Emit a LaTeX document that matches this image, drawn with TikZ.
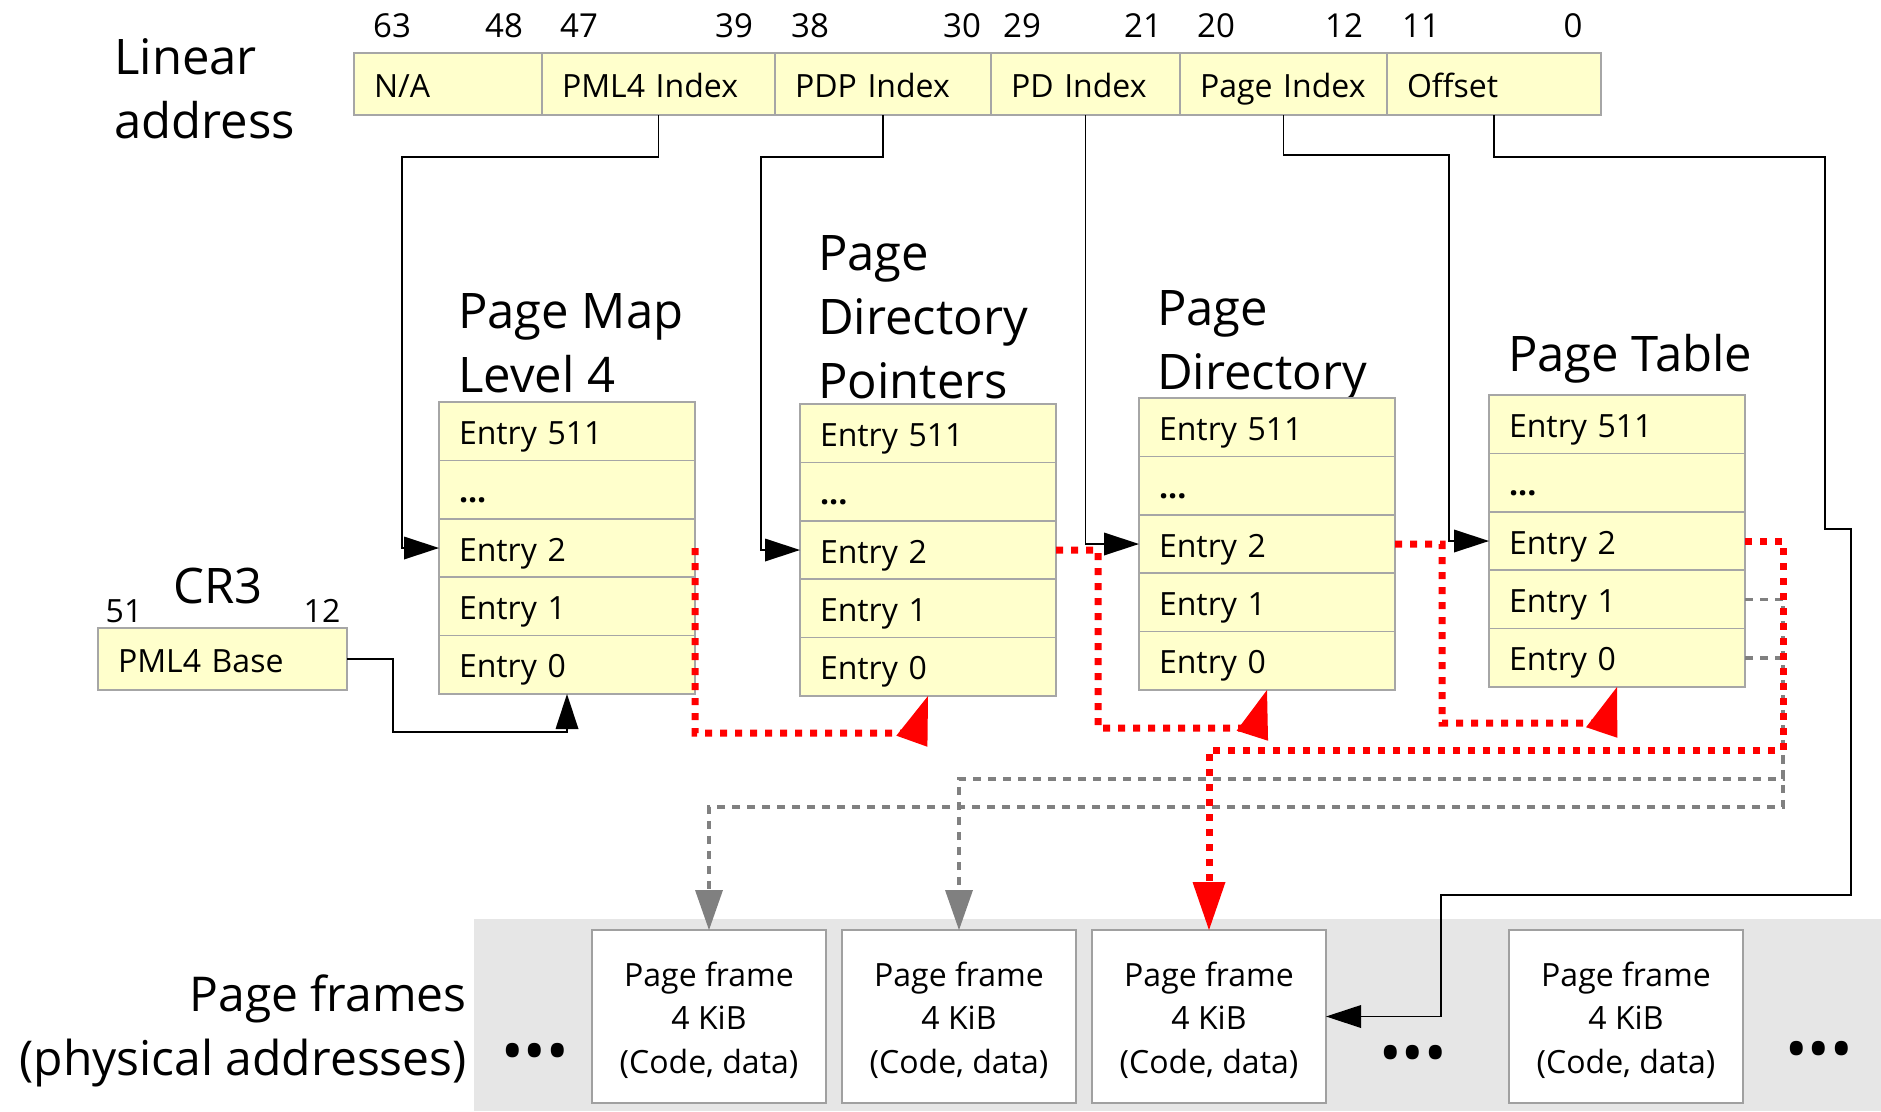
\documentclass[tikz,border=0pt]{standalone}
\usepackage{fontspec}
\setmainfont{Open Sans}
\usetikzlibrary{arrows.meta}

\definecolor{cellfill}{HTML}{FFFFCC}
\definecolor{cellline}{HTML}{A6A6A6}
\definecolor{frameline}{HTML}{A0A0A0}
\definecolor{framebg}{HTML}{E6E6E6}
\definecolor{walkred}{HTML}{FF0000}
\definecolor{altgray}{HTML}{808080}

\newcommand\smallfnt{\fontsize{32}{43.5}\selectfont}
\newcommand\bitfnt{\fontsize{33}{40}\selectfont}
\newcommand\bigfnt{\fontsize{49}{64}\selectfont}

% one paging-structure table: name, left x, top y
\newcommand\pagetable[3]{%
  \node[row] (#1-511) at (#2,#3) {Entry 511};
  \node[row, anchor=north] (#1-dots) at (#1-511.south) {\textbf{...}};
  \node[row, anchor=north] (#1-2) at (#1-dots.south) {Entry 2};
  \node[row, anchor=north] (#1-1) at (#1-2.south) {Entry 1};
  \node[row, anchor=north] (#1-0) at (#1-1.south) {Entry 0};
}

\begin{document}
\begin{tikzpicture}[x=1pt, y=-1pt,
  cell/.style={draw=cellline, fill=cellfill, line width=1.5pt, outer sep=0pt,
    inner xsep=20pt, inner ysep=0pt, minimum height=62pt, text height=30pt,
    text depth=4pt, align=left, font=\smallfnt, anchor=north west},
  row/.style={cell, minimum height=58.4pt, text width=216pt},
  bitnum/.style={font=\bitfnt, anchor=base, inner sep=0pt},
  crnum/.style={font=\smallfnt, anchor=base, inner sep=0pt},
  bigtext/.style={font=\bigfnt, inner sep=0pt, anchor=base west, align=left},
  pframe/.style={draw=frameline, fill=white, line width=1.5pt, outer sep=0pt,
    minimum width=234pt, minimum height=173pt, align=center, font=\smallfnt},
  bigdots/.style={font=\fontsize{60}{60}\selectfont, inner sep=0pt},
  link/.style={draw=black, line width=1.8pt, -{Triangle[length=35pt, width=23pt, line width=0pt]}},
  redwalk/.style={draw=walkred, line width=7pt, dash pattern=on 7pt off 8pt,
    -{Triangle[length=48pt, width=33pt, line width=0pt]}},
  graywalk/.style={draw=altgray, line width=3.5pt, dash pattern=on 8pt off 7pt,
    -{Triangle[length=40pt, width=28pt, line width=0pt]}}
]
\useasboundingbox (0,0) rectangle (1881,1111);

% physical memory strip
\fill[framebg] (474,919) rectangle (1881,1111);

% linear address fields (multi-line labels are placed by their last baseline)
\node[bigtext] (linlabel) at (114,138) {Linear\\address};
\node[cell, text width=148pt] (na) at (354,53) {N/A};
\node[cell, text width=193pt] (ipml) at (542,53) {PML4 Index};
\node[cell, text width=176pt] (ipdp) at (775,53) {PDP Index};
\node[cell, text width=149pt] (ipd) at (991,53) {PD Index};
\node[cell, text width=167pt] (ipage) at (1180,53) {Page Index};
\node[cell, text width=174pt] (ioff) at (1387,53) {Offset};

% bit positions
\node[bitnum] (b63) at (392,37) {63};
\node[bitnum] (b48) at (504,37) {48};
\node[bitnum] (b47) at (579,37) {47};
\node[bitnum] (b39) at (734,37) {39};
\node[bitnum] (b38) at (810,37) {38};
\node[bitnum] (b30) at (962,37) {30};
\node[bitnum] (b29) at (1022,37) {29};
\node[bitnum] (b21) at (1143,37) {21};
\node[bitnum] (b20) at (1216,37) {20};
\node[bitnum] (b12) at (1344,37) {12};
\node[bitnum] (b11) at (1421,37) {11};
\node[bitnum] (b0) at (1573,37) {0};

% CR3 register
\node[bigtext, anchor=base] (cr3label) at (218,603) {CR3};
\node[crnum] (c51) at (124,622) {51};
\node[crnum] (c12) at (322,622) {12};
\node[cell, text width=209pt] (cr3) at (98,628) {PML4 Base};

% paging structures
\node[bigtext] (tpml) at (458,392) {Page Map\\Level 4};
\node[bigtext] (tpdp) at (818,398) {Page\\Directory\\Pointers};
\node[bigtext] (tpd) at (1157,389) {Page\\Directory};
\node[bigtext] (tpt) at (1508,371) {Page Table};
\pagetable{pml}{439}{402}
\pagetable{pdp}{800}{404}
\pagetable{pd}{1139}{398}
\pagetable{pt}{1489}{395}

% page frames
\node[bigtext, font=\fontsize{48}{64}\selectfont, align=right, anchor=base east] (pflabel) at (467,1075) {Page frames\\(physical addresses)};
\node[pframe] (f1) at (709,1016.5) {\rule{0pt}{32pt}Page frame\\4 KiB\\(Code, data)};
\node[pframe] (f2) at (959,1016.5) {\rule{0pt}{32pt}Page frame\\4 KiB\\(Code, data)};
\node[pframe] (f3) at (1209,1016.5) {\rule{0pt}{32pt}Page frame\\4 KiB\\(Code, data)};
\node[pframe] (f4) at (1626,1016.5) {\rule{0pt}{32pt}Page frame\\4 KiB\\(Code, data)};
\node[bigdots] (gap1) at (535,1058) {•••};
\node[bigdots] (gap2) at (1413,1060) {•••};
\node[bigdots] (gap3) at (1819,1056) {•••};

% index fields select entries
\draw[link] (ipml.south) |- (402,157) |- (pml-2.west);
\draw[link] (ipdp.south) |- (761,157) |- (pdp-2.west);
\draw[link] (ipd.south) |- (pd-2.west);
\draw[link] (ipage.south) |- (1449,155) |- (pt-2.west);
\draw[link] (ioff.south) |- (1825,157) |- (1851,529) |- (1441,895) |- (f3.east);
\draw[link] (cr3.east) -| (393,732) -| (pml-0.south);

% walk through the tables
\draw[redwalk] (pml-2.east) |- (914.8,733) -- (pdp-0.south);
\draw[redwalk] (pdp-2.east) -| (1098,728) -- (1254.8,728) -- (pd-0.south);
\draw[redwalk] (pd-2.east) -| (1442,723) -- (1604.9,723) -- (pt-0.south);
\draw[graywalk] (pt-1.east) -| (1783,779) -| (f2.north);
\draw[graywalk] (pt-0.east) -| (1783,807) -| (f1.north);
\draw[redwalk] (pt-2.east) -| (1783,750) -| (f3.north);
\end{tikzpicture}
\end{document}
